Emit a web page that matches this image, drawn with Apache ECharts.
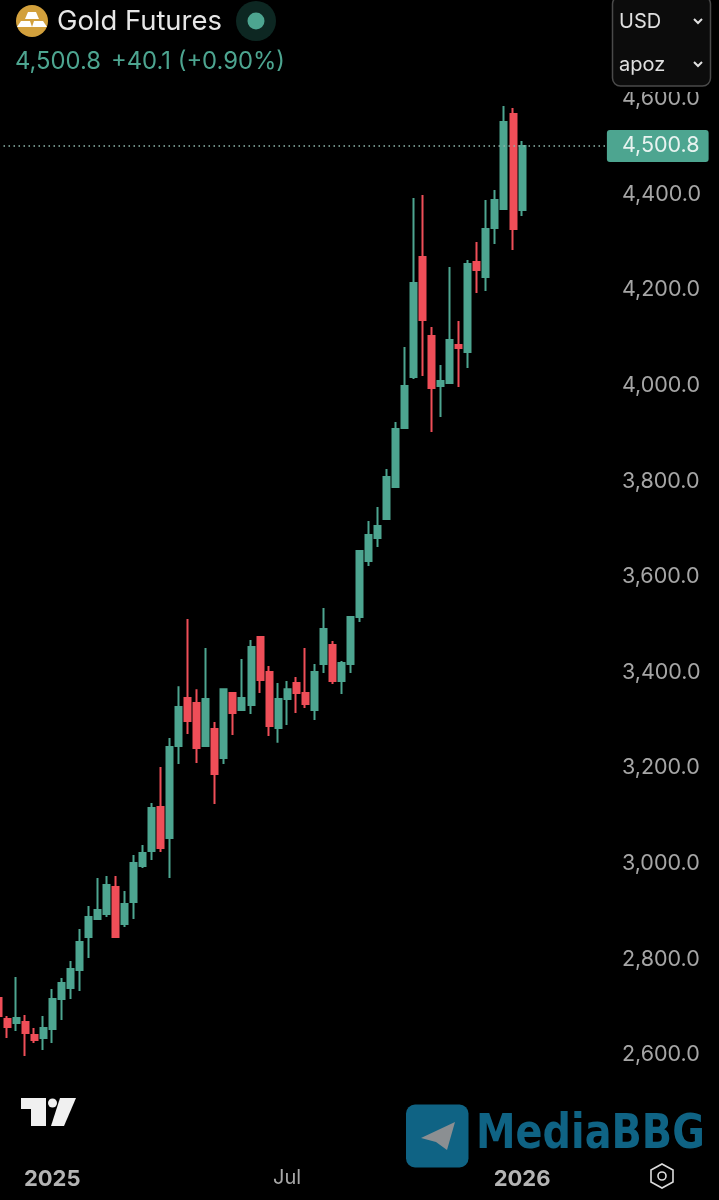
<!DOCTYPE html>
<html><head><meta charset="utf-8">
<style>html,body{margin:0;padding:0;background:#000}#c{width:719px;height:1200px}</style>
<script src="https://cdn.jsdelivr.net/npm/echarts@6/dist/echarts.min.js"></script>
</head><body><div id="c"></div>
<script>
const firstWeek = Date.UTC(2024,10,18);
const weekCount = 68;
const tickLabels = {"2024-12-30":"2025","2025-06-30":"Jul","2025-12-29":"2026"};
const lastPrice = 4500.8;
const opens = [2718.7,2674.8,2666.4,2668.5,2641.3,2635,2653.8,2716.6,2739.6,2777.3,2846.3,2883.9,2894.4,2950.9,2873.5,2919.5,2994.8,3026.2,3118.2,3053.4,3245.8,3346.2,3335.7,3245.8,3281.4,3220.7,3356.6,3321,3331.6,3473.8,3400.6,3283.5,3344.1,3377.6,3356.6,3321,3417.3,3456.9,3381.7,3417.3,3515.6,3632.8,3680.9,3720.6,3787.5,3911,4017.6,4268.6,4103.4,3998.8,4005.1,4084.5,4069.9,4258.2,4226.8,4329.3,4369,4567.7,4366.9];
const closes = [2681,2658,2676.9,2645.5,2630.8,2655.9,2716.6,2750,2779.3,2835.8,2888.1,2902.8,2955,2846.3,2915.3,3001,3022,3116.1,3032.4,3243.7,3327.4,3298.1,3241.6,3344.1,3187.2,3364.8,3314.8,3346.2,3452.8,3383.8,3287.6,3344.1,3364.8,3356.6,3333.6,3400.6,3490.5,3381.7,3419.4,3515.6,3653.7,3687.2,3706,3808.4,3908.9,3998.8,4214.2,4136.9,3994.6,4009.3,4095,4078.3,4254,4241.4,4327.2,4387.9,4551,4327.2,4500.8];
const lows = [2672.7,2635,2649.7,2597.4,2624.6,2609.9,2624.6,2672.7,2716.6,2733.3,2802.4,2881.8,2888.1,2844.2,2867.2,2883.9,2990.6,3007.3,3024.1,2969.7,3208.1,3270.9,3210.2,3245.8,3124.5,3208.1,3268.8,3318.9,3312.7,3356.6,3266.7,3252.4,3289.7,3314.8,3325.3,3300.2,3398.5,3375.5,3354.5,3398.5,3505.1,3622.3,3662,3718.5,3787.5,3908.9,4013.4,4019.7,3902.6,3933.9,4005.1,3996.7,4036.4,4193.3,4197.5,4295.8,4369,4283.3,4354.4];
const highs = [2735.4,2681,2762.6,2683.1,2655.9,2681,2737.5,2760.5,2796.1,2863,2911.1,2969.7,2973.9,2973.9,2942.5,3017.8,3038.7,3126.6,3201.9,3262.5,3371,3511.4,3364.8,3450.7,3296,3364.8,3356.6,3427.7,3467.6,3475.9,3413.1,3377.6,3381.7,3390.1,3450.7,3417.3,3534.5,3465.5,3423.6,3517.7,3655.8,3716.4,3745.7,3825.2,3923.5,4080.4,4392,4398.3,4122.2,4042.7,4247.7,4134.8,4262.4,4300,4387.9,4408.8,4584.5,4580.3,4511.3];
const categories = [];
for (let i=0;i<weekCount;i++) categories.push(new Date(firstWeek+i*7*864e5).toISOString().slice(0,10));
const candles = opens.map((o,i)=>[o,closes[i],lows[i],highs[i]]);

const GREEN='#4da590', RED='#ef4e58', FONT='Inter, "Noto Sans", sans-serif';
const chart = echarts.init(document.getElementById('c'),null,{renderer:'canvas',width:719,height:1200});
const txt=(x,y,text,size,color,extra)=>({type:'text',z:200,style:Object.assign({x,y,text,fontSize:size,fontFamily:FONT,fill:color,verticalAlign:'middle',align:'left'},extra||{})});
const chevron=(cx,cy)=>({type:'polyline',z:200,shape:{points:[[cx-4,cy-2],[cx,cy+2],[cx+4,cy-2]]},style:{stroke:'#e0e0e0',lineWidth:2,fill:null}});
chart.setOption({
  animation:false,
  backgroundColor:'#000',
  grid:{left:-6.5,top:2.95,width:614.4,height:1147.45,outerBoundsMode:'none'},
  xAxis:{type:'category',data:categories,boundaryGap:true,
    axisLine:{show:false},axisTick:{show:false},splitLine:{show:false},
    axisLabel:{interval:(i,v)=>v in tickLabels,margin:18,hideOverlap:false,
      formatter:v=>{const t=tickLabels[v]||'';return t==='Jul'?'{m|'+t+'}':'{b|'+t+'}';},
      rich:{b:{fontFamily:FONT,fontSize:22,fontWeight:700,color:'#b4b4b4'},m:{fontFamily:FONT,fontSize:20,color:'#a8a8a8'}}}},
  yAxis:{type:'value',position:'right',min:2400,max:4800,interval:200,scale:true,
    axisLine:{show:false},axisTick:{show:false},splitLine:{show:false},
    axisLabel:{showMinLabel:false,showMaxLabel:false,margin:14,fontFamily:FONT,fontSize:21.5,color:'#a6a6a6',
      formatter:v=>v.toLocaleString('en-US',{minimumFractionDigits:1,maximumFractionDigits:1})}},
  series:[{type:'candlestick',data:candles,barWidth:6.5,
    itemStyle:{color:GREEN,color0:RED,borderColor:GREEN,borderColor0:RED,borderWidth:2},
    markLine:{silent:true,symbol:'none',animation:false,
      lineStyle:{color:'#8fb8ac',type:[1.5,3.5],width:1.5},
      label:{show:true,position:'end',distance:-1,formatter:()=>lastPrice.toLocaleString('en-US',{minimumFractionDigits:1}),
        fontFamily:FONT,fontSize:21.5,color:'#e8f3f0',backgroundColor:GREEN,borderRadius:3,padding:[5,9,5,15]},
      data:[{yAxis:lastPrice}]}}],
  graphic:{elements:[
    {type:'circle',z:200,shape:{cx:32,cy:21,r:16},style:{fill:'#d2a03c'}},
    {type:'polygon',z:201,shape:{points:[[28,12],[36,12],[39,19],[25,19]]},style:{fill:'#fff'}},
    {type:'polygon',z:201,shape:{points:[[21,21],[30,21],[32,27],[17,27]]},style:{fill:'#fff'}},
    {type:'polygon',z:201,shape:{points:[[34,21],[43,21],[47,27],[32,27]]},style:{fill:'#fff'}},
    txt(57,22,'Gold Futures',27.4,'#e6e6e6'),
    {type:'circle',z:200,shape:{cx:256,cy:21,r:20},style:{fill:'#0d2722'}},
    {type:'circle',z:201,shape:{cx:256,cy:21,r:8.5},style:{fill:GREEN}},
    txt(15,62,'4,500.8',23.8,GREEN),
    txt(111,62,'+40.1 (+0.90%)',23.8,GREEN),
    {type:'rect',z:189,shape:{x:612,y:86,width:100,height:6},style:{fill:'#000'}},
    {type:'rect',z:190,shape:{x:612.5,y:-4,width:98,height:90,r:8},style:{fill:'#0c0c0c',stroke:'#4a4a4a',lineWidth:1.5}},
    txt(619,22,'USD',20,'#e0e0e0'),
    txt(619,65,'apoz',20,'#e0e0e0'),
    chevron(698,21),chevron(698,64),
    {type:'polygon',z:200,shape:{points:[[21,1098],[46,1098],[46,1126],[31,1126],[31,1109],[21,1109]]},style:{fill:'#f0f0f0'}},
    {type:'circle',z:200,shape:{cx:52.5,cy:1103,r:4.5},style:{fill:'#f0f0f0'}},
    {type:'polygon',z:200,shape:{points:[[60,1098],[76,1098],[64,1126],[51,1126]]},style:{fill:'#f0f0f0'}},
    {type:'rect',z:200,shape:{x:406,y:1104.5,width:62.5,height:63,r:9},style:{fill:'#0f6384'}},
    {type:'polygon',z:201,shape:{points:[[455,1122],[421,1138],[436,1142],[447,1150]]},style:{fill:'#8b8f92'}},
    {type:'text',z:200,x:476,y:1136,scaleX:1.02,scaleY:1.22,style:{x:0,y:0,text:'MediaBBG',fontSize:39,fontWeight:700,fontFamily:'"DejaVu Sans"',fill:'#0f6384',verticalAlign:'middle',align:'left'}},
    {type:'polygon',z:200,shape:{points:[[662,1164],[673,1170],[673,1182],[662,1188],[651,1182],[651,1170]]},style:{fill:null,stroke:'#dcdcdc',lineWidth:1.6}},
    {type:'circle',z:200,shape:{cx:662,cy:1176,r:4},style:{fill:null,stroke:'#dcdcdc',lineWidth:1.6}}
  ]}
});
</script></body></html>
